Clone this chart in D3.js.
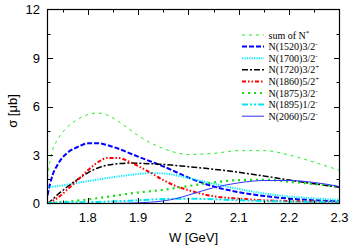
<!DOCTYPE html>
<html>
<head>
<meta charset="utf-8">
<script src="https://cdn.jsdelivr.net/npm/d3@7"></script>
<style>
  html, body { margin: 0; padding: 0; background: #fff; }
  svg { display: block; }
</style>
</head>
<body>
<div id="chart"></div>
<script>
/* ── data ──────────────────────────────────────────────── */
const W_GRID = [1.72, 1.725, 1.73, 1.74, 1.75, 1.76, 1.78, 1.80, 1.82, 1.84, 1.86, 1.88,
                1.90, 1.925, 1.95, 1.975, 2.0, 2.05, 2.1, 2.15, 2.2, 2.25, 2.3];

const sumNstar = [1.6, 2.6, 3.3, 3.95, 4.4, 4.75, 5.2, 5.5, 5.6, 5.45, 5.1, 4.65,
                  4.2, 3.75, 3.4, 3.15, 3.03, 3.1, 3.27, 3.27, 3.0, 2.55, 2.05];
const n1520 = [0.5, 1.2, 1.75, 2.4, 2.85, 3.15, 3.5, 3.72, 3.73, 3.6, 3.4, 3.15,
               2.9, 2.6, 2.3, 1.95, 1.6, 1.05, 0.7, 0.47, 0.3, 0.2, 0.13];
const n1700 = [1.0, 1.02, 1.04, 1.08, 1.12, 1.17, 1.28, 1.38, 1.48, 1.58, 1.67, 1.75,
               1.83, 1.88, 1.86, 1.75, 1.58, 1.22, 0.9, 0.62, 0.43, 0.32, 0.22];
const n1720 = [0.0, 0.12, 0.25, 0.55, 0.8, 1.05, 1.5, 1.9, 2.2, 2.38, 2.46, 2.5,
               2.49, 2.46, 2.42, 2.35, 2.28, 2.12, 1.93, 1.7, 1.45, 1.22, 1.0];
const n1860 = [0.0, 0.07, 0.15, 0.35, 0.6, 0.88, 1.45, 2.05, 2.55, 2.82, 2.82, 2.62,
               2.32, 1.9, 1.45, 1.08, 0.82, 0.45, 0.3, 0.2, 0.15, 0.12, 0.1];
const n1875 = [0.0, 0.01, 0.02, 0.05, 0.08, 0.11, 0.18, 0.25, 0.33, 0.42, 0.51, 0.6,
               0.68, 0.76, 0.85, 0.96, 1.08, 1.3, 1.45, 1.47, 1.35, 1.2, 1.05];
const n1895 = [0.05, 0.05, 0.05, 0.06, 0.06, 0.07, 0.07, 0.08, 0.1, 0.12, 0.14, 0.17,
               0.2, 0.24, 0.28, 0.3, 0.3, 0.26, 0.2, 0.15, 0.12, 0.11, 0.1];
const n2060 = [0, 0, 0, 0, 0, 0, 0, 0, 0, 0, 0.01, 0.02,
               0.04, 0.08, 0.16, 0.3, 0.52, 0.98, 1.28, 1.42, 1.42, 1.3, 1.05];

const X_TICKS = [1.8, 1.9, 2.0, 2.1, 2.2, 2.3];
const X_MINOR = [1.75, 1.85, 1.95, 2.05, 2.15, 2.25];
const Y_TICKS = [0, 3, 6, 9, 12];
const Y_MINOR = [1.5, 4.5, 7.5, 10.5];

/* label, values, main text, superscript */
const SERIES = [
  { name: 'sum of N', sup: '*', vals: sumNstar, color: '#22ee22', width: 1,   dash: '3,4' },
  { name: 'N(1520)3/2', sup: '-', vals: n1520, color: '#0000ff', width: 2,   dash: '5,2' },
  { name: 'N(1700)3/2', sup: '-', vals: n1700, color: '#00eeff', width: 2,   dash: '1.2,1.2' },
  { name: 'N(1720)3/2', sup: '+', vals: n1720, color: '#000000', width: 1.5, dash: '6,2,2,2' },
  { name: 'N(1860)5/2', sup: '+', vals: n1860, color: '#ff0000', width: 2,   dash: '4,2,1.5,2,1.5,2' },
  { name: 'N(1875)3/2', sup: '-', vals: n1875, color: '#11dd11', width: 2.2, dash: '2,4' },
  { name: 'N(1895)1/2', sup: '-', vals: n1895, color: '#00e6f0', width: 2,   dash: '6,2,2,2,2,2' },
  { name: 'N(2060)5/2', sup: '-', vals: n2060, color: '#3333ff', width: 1,   dash: null },
];

/* ── layout ─────────────────────────────────────────── */
const WIDTH = 353, HEIGHT = 247;
const L = 47.5, R = 339.5, T = 9.5, B = 203.5;

const svg = d3.select('#chart').append('svg')
  .attr('width', WIDTH).attr('height', HEIGHT);

const x = d3.scaleLinear().domain([1.72, 2.3]).range([L, R]);
const y = d3.scaleLinear().domain([0, 12]).range([B, T]);

/* curves, clipped to the frame */
svg.append('clipPath').attr('id', 'clip')
  .append('rect').attr('x', L).attr('y', T).attr('width', R - L).attr('height', B - T);

const line = d3.line()
  .x(d => x(d[0])).y(d => y(d[1]))
  .curve(d3.curveMonotoneX);

const plot = svg.append('g').attr('clip-path', 'url(#clip)');
SERIES.forEach(s => {
  plot.append('path')
    .datum(W_GRID.map((w, i) => [w, s.vals[i]]))
    .attr('d', line)
    .attr('fill', 'none')
    .attr('stroke', s.color)
    .attr('stroke-width', s.width)
    .attr('stroke-dasharray', s.dash);
});

/* frame */
svg.append('rect')
  .attr('x', L).attr('y', T).attr('width', R - L).attr('height', B - T)
  .attr('fill', 'none').attr('stroke', '#000').attr('stroke-width', 1.2);

/* ticks: inward, mirrored on top/right */
const tickG = svg.append('g').attr('stroke', '#000').attr('stroke-width', 1);
const MAJ = 5.5, MIN = 3;
const xt = (vals, len) => vals.forEach(v => {
  const px = Math.round(x(v)) + 0.5;
  tickG.append('line').attr('x1', px).attr('x2', px).attr('y1', B).attr('y2', B - len);
  tickG.append('line').attr('x1', px).attr('x2', px).attr('y1', T).attr('y2', T + len);
});
const yt = (vals, len) => vals.forEach(v => {
  const py = Math.round(y(v)) + 0.5;
  tickG.append('line').attr('y1', py).attr('y2', py).attr('x1', L).attr('x2', L + len);
  tickG.append('line').attr('y1', py).attr('y2', py).attr('x1', R).attr('x2', R - len);
});
xt(X_TICKS.filter(v => v < 2.3), MAJ); xt(X_MINOR, MIN);
yt(Y_TICKS.filter(v => v > 0 && v < 12), MAJ); yt(Y_MINOR, MIN);

/* tick labels */
const sans = 'Liberation Sans, Arial, sans-serif';
svg.append('g').selectAll('text')
  .data(X_TICKS).join('text')
  .attr('x', d => x(d)).attr('y', 222)
  .attr('text-anchor', 'middle')
  .attr('font-family', sans).attr('font-size', 13)
  .text(d => d3.format('~g')(d));

svg.append('g').selectAll('text')
  .data(Y_TICKS).join('text')
  .attr('x', 40).attr('y', d => y(d) + 4.6)
  .attr('text-anchor', 'end')
  .attr('font-family', sans).attr('font-size', 13)
  .text(d => d);

/* axis titles */
svg.append('text')
  .attr('x', (L + R) / 2).attr('y', 241.5)
  .attr('text-anchor', 'middle')
  .attr('font-family', sans).attr('font-size', 13)
  .text('W [GeV]');

svg.append('text')
  .attr('transform', 'translate(17,111) rotate(-90)')
  .attr('text-anchor', 'middle')
  .attr('font-family', sans).attr('font-size', 13)
  .text('σ [μb]');

/* legend */
const LEG_Y0 = 35, LEG_DY = 11.6, LEG_X0 = 242, LEG_X1 = 264, LEG_TX = 268.5;
const leg = svg.append('g');
SERIES.forEach((s, i) => {
  const ly = LEG_Y0 + i * LEG_DY;
  leg.append('line')
    .attr('x1', LEG_X0).attr('x2', LEG_X1).attr('y1', ly).attr('y2', ly)
    .attr('stroke', s.color).attr('stroke-width', s.width)
    .attr('stroke-dasharray', s.dash);
  const t = leg.append('text')
    .attr('x', LEG_TX).attr('y', ly + 3.5)
    .attr('font-family', 'Liberation Serif, Times New Roman, serif')
    .attr('font-size', 10);
  t.append('tspan').text(s.name);
  t.append('tspan').attr('dy', -4).attr('font-size', 7).text(s.sup);
});
</script>
</body>
</html>
